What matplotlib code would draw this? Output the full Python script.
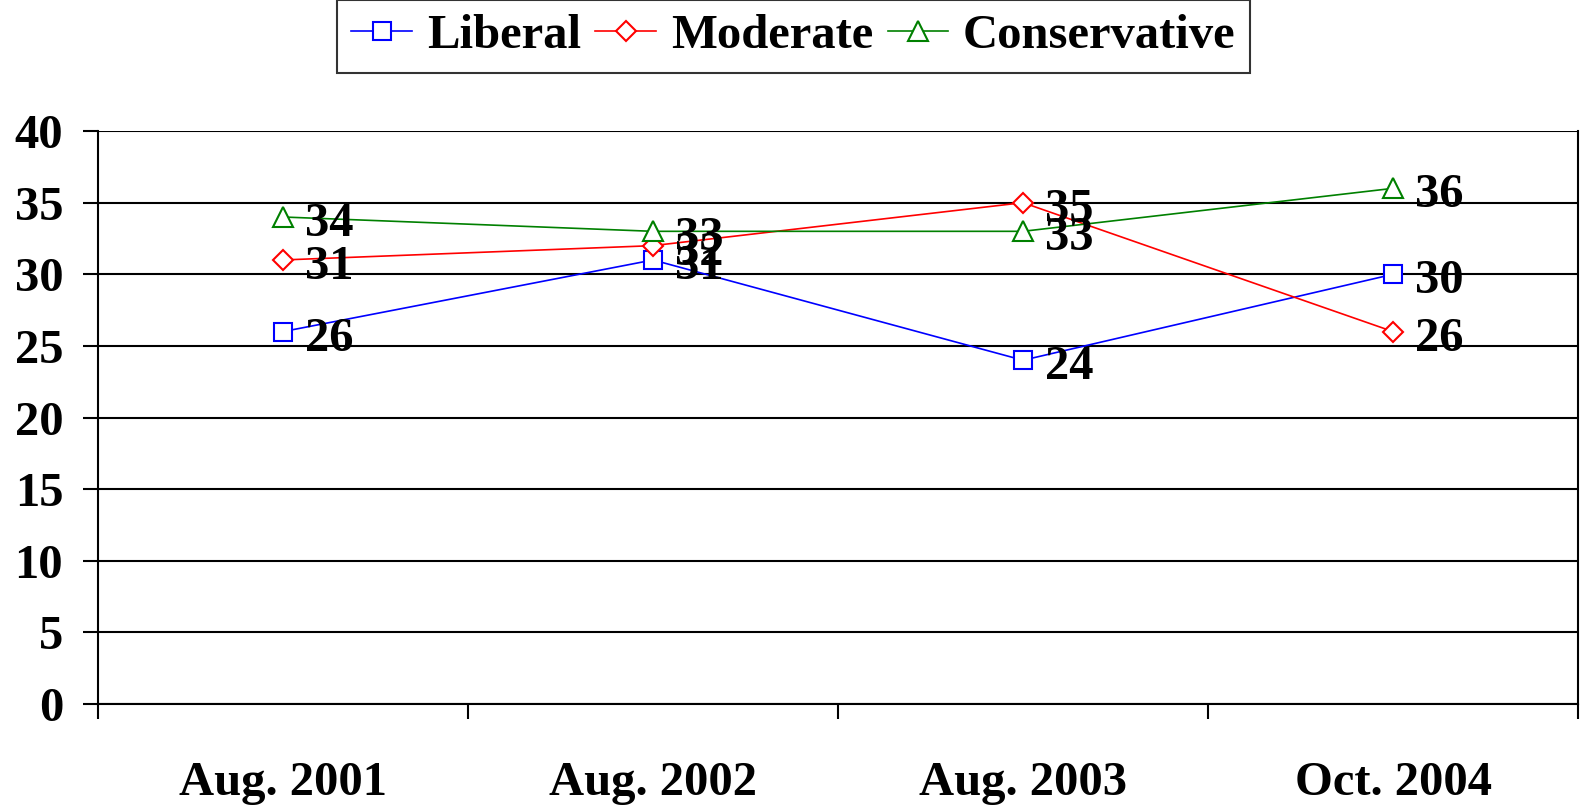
import matplotlib
matplotlib.use('Agg')
import matplotlib.pyplot as plt

categories = ['Aug. 2001', 'Aug. 2002', 'Aug. 2003', 'Oct. 2004']
liberal = [26, 31, 24, 30]
moderate = [31, 32, 35, 26]
conservative = [34, 33, 33, 36]

plt.rcParams['font.family'] = ['Liberation Serif', 'DejaVu Serif']
plt.rcParams['font.weight'] = 'bold'

fig = plt.figure(figsize=(15.85, 8.09), dpi=100)
ax = fig.add_axes([0.0618, 0.1298, 0.9338, 0.7082])

x = list(range(len(categories)))
series = [
    ('Liberal', liberal, 'blue', 's', 13),
    ('Moderate', moderate, 'red', 'D', 10),
    ('Conservative', conservative, 'green', '^', 14),
]
for name, vals, col, mk, ms in series:
    ax.plot(x, vals, color=col, linewidth=1.2, marker=mk, markersize=ms,
            markerfacecolor='white', markeredgecolor=col, markeredgewidth=1.5,
            label=name, zorder=3)
    for xi, v in zip(x, vals):
        ax.annotate(str(v), (xi, v), xytext=(16, -5), textcoords='offset points',
                    ha='left', va='center', fontsize=35, fontweight='bold', zorder=4)

ax.set_xlim(-0.5, 3.5)
ax.set_ylim(0, 40)
ax.set_yticks(range(0, 41, 5))
ax.set_xticks([i - 0.5 for i in range(5)])
ax.set_xticklabels([])
ax.set_xticks(x, minor=True)
ax.set_xticklabels(categories, minor=True, fontsize=35, fontweight='bold')
ax.tick_params(axis='x', which='minor', length=0, pad=41)
ax.tick_params(axis='x', which='major', length=11, width=1.5, direction='out')
ax.tick_params(axis='y', length=11, width=1.5, direction='out', pad=14, labelsize=35)
for lab in ax.get_yticklabels():
    lab.set_fontweight('bold')
ax.grid(axis='y', color='black', linewidth=1.5)
for s in ax.spines.values():
    s.set_linewidth(1.5)
ax.spines['top'].set_visible(False)

leg = fig.legend(loc='center', bbox_to_anchor=(0.5006, 0.955), ncol=3,
                 fontsize=35, frameon=True, fancybox=False, handlelength=1.25,
                 handletextpad=0.3, columnspacing=0.3, borderpad=0.3,
                 borderaxespad=0)
leg.get_frame().set_edgecolor('black')
leg.get_frame().set_linewidth(1.5)
for t in leg.get_texts():
    t.set_fontweight('bold')

fig.savefig('out.png', dpi=100)
